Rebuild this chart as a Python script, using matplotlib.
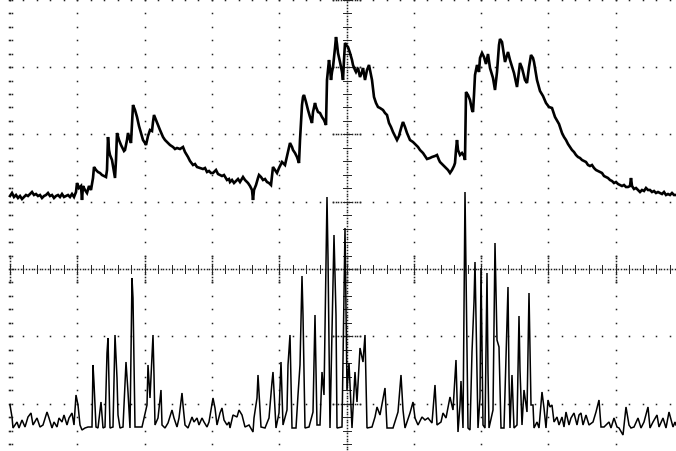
import numpy as np
import matplotlib
matplotlib.use("Agg")
import matplotlib.pyplot as plt

upper_t = [10, 12, 14, 16, 18, 20, 22, 24, 26, 28, 30, 32, 34, 36, 38, 40, 42, 44, 46, 48,
           50, 52, 54, 56, 58, 60, 62, 64, 66, 68, 70, 72, 74, 76, 77, 79, 81, 82, 83, 85,
           87, 89, 91, 93, 94, 96, 98, 100, 102, 104, 106, 107, 108, 109, 110, 112, 114, 115, 116, 117,
           119, 121, 122, 124, 125, 127, 128, 130, 131, 132, 133, 135, 137, 139, 141, 143, 145, 146, 148, 150,
           152, 153, 154, 156, 158, 160, 163, 165, 167, 170, 173, 175, 177, 180, 183, 185, 188, 190, 193, 195,
           197, 200, 203, 205, 207, 209, 211, 213, 216, 218, 220, 222, 224, 227, 229, 230, 232, 234, 236, 238,
           240, 243, 245, 248, 250, 252, 253, 254, 256, 258, 259, 261, 263, 265, 267, 269, 271, 272, 273, 275,
           277, 279, 281, 282, 284, 285, 287, 289, 290, 292, 293, 295, 297, 299, 300, 302, 303, 304, 306, 308,
           310, 312, 313, 315, 316, 318, 320, 322, 324, 326, 327, 328, 329, 330, 331, 332, 333, 335, 336, 337,
           338, 340, 342, 343, 344, 345, 347, 348, 350, 352, 353, 355, 356, 358, 360, 362, 363, 365, 367, 369,
           371, 372, 374, 376, 378, 380, 383, 385, 387, 389, 391, 393, 395, 397, 399, 400, 402, 403, 405, 407,
           410, 413, 415, 418, 420, 423, 425, 427, 430, 432, 435, 437, 439, 440, 443, 445, 448, 450, 452, 454,
           455, 456, 457, 458, 460, 462, 464, 465, 466, 468, 470, 472, 473, 474, 475, 477, 479, 480, 482, 484,
           486, 488, 490, 493, 495, 497, 499, 500, 502, 505, 508, 510, 514, 517, 520, 522, 525, 527, 529, 531,
           533, 534, 537, 540, 543, 546, 549, 552, 555, 559, 562, 564, 566, 568, 570, 572, 574, 576, 578, 580,
           582, 584, 586, 588, 590, 592, 594, 596, 598, 600, 602, 604, 606, 608, 610, 612, 614, 616, 618, 620,
           622, 624, 626, 628, 630, 631, 632, 634, 636, 638, 640, 642, 644, 646, 648, 650, 652, 654, 656, 658,
           660, 662, 664, 666, 668, 670, 672, 674, 676]
upper_v = [73, 76, 72, 74, 71, 73, 70, 72, 74, 73, 75, 77, 74, 75, 73, 74, 71, 73, 74, 76,
           73, 74, 71, 73, 74, 72, 75, 72, 73, 74, 72, 75, 72, 77, 86, 81, 83, 69, 83, 79,
           76, 83, 79, 91, 102, 99, 97, 96, 94, 93, 92, 99, 132, 119, 114, 109, 97, 91, 109, 136,
           129, 124, 122, 118, 119, 129, 136, 129, 126, 144, 164, 159, 152, 143, 136, 129, 126, 124, 133, 139,
           138, 147, 154, 149, 144, 139, 132, 129, 127, 124, 122, 120, 121, 120, 122, 117, 112, 108, 104, 105,
           102, 101, 100, 101, 97, 98, 96, 96, 99, 95, 94, 93, 94, 89, 90, 87, 89, 86, 88, 90,
           87, 92, 89, 86, 83, 79, 69, 79, 84, 91, 94, 92, 89, 90, 87, 86, 84, 93, 102, 99,
           96, 101, 105, 107, 105, 104, 113, 122, 126, 122, 119, 116, 112, 106, 129, 164, 172, 174, 167, 159,
           152, 146, 157, 166, 162, 157, 156, 152, 149, 144, 189, 199, 209, 201, 189, 197, 202, 221, 232, 225,
           216, 207, 197, 189, 209, 226, 223, 222, 216, 209, 204, 199, 197, 201, 192, 197, 201, 189, 199, 204,
           194, 189, 172, 166, 162, 161, 159, 156, 154, 146, 142, 137, 133, 129, 133, 137, 144, 147, 142, 136,
           129, 127, 125, 122, 119, 116, 113, 110, 111, 112, 113, 114, 109, 107, 104, 102, 99, 96, 99, 103,
           106, 119, 129, 119, 114, 116, 113, 109, 177, 174, 169, 159, 157, 174, 194, 204, 197, 211, 216, 212,
           205, 215, 201, 191, 179, 197, 224, 230, 227, 207, 217, 209, 196, 182, 206, 201, 189, 186, 202, 214,
           211, 207, 189, 178, 173, 166, 162, 161, 152, 145, 136, 132, 129, 125, 122, 119, 117, 114, 112, 111,
           109, 108, 107, 104, 103, 104, 101, 99, 98, 97, 96, 93, 92, 91, 89, 88, 86, 87, 85, 84,
           83, 84, 82, 82, 83, 91, 83, 80, 81, 79, 77, 79, 78, 81, 79, 79, 77, 78, 76, 77,
           76, 75, 77, 74, 75, 74, 76, 74, 74]

lower_t = [10, 12, 13, 17, 19, 22, 25, 28, 31, 33, 37, 40, 43, 47, 49, 52, 54, 57, 59, 62,
           64, 67, 69, 72, 74, 76, 78, 80, 82, 85, 88, 92, 93, 94, 96, 98, 101, 103, 105, 107,
           108, 110, 113, 115, 117, 118, 120, 123, 125, 126, 128, 130, 132, 133, 135, 138, 142, 147, 148, 150,
           153, 154, 155, 158, 161, 162, 165, 168, 172, 174, 177, 179, 182, 183, 185, 188, 192, 194, 197, 199,
           202, 204, 207, 209, 213, 215, 217, 220, 222, 224, 227, 229, 230, 233, 237, 239, 242, 245, 249, 253,
           254, 257, 258, 261, 265, 269, 272, 273, 276, 279, 281, 283, 287, 288, 290, 292, 296, 298, 300, 302,
           303, 305, 309, 313, 315, 317, 320, 322, 324, 327, 328, 330, 334, 336, 337, 342, 345, 347, 349, 352,
           355, 357, 360, 363, 365, 367, 372, 375, 377, 380, 385, 387, 393, 398, 401, 403, 405, 410, 413, 415,
           418, 422, 425, 428, 432, 435, 437, 441, 443, 446, 450, 453, 456, 458, 460, 461, 463, 465, 468, 470,
           472, 474, 475, 477, 478, 480, 481, 483, 485, 487, 488, 489, 493, 495, 497, 499, 501, 504, 508, 509,
           510, 512, 514, 517, 519, 520, 522, 524, 527, 529, 531, 533, 534, 537, 539, 542, 544, 546, 548, 550,
           552, 554, 557, 559, 562, 564, 566, 569, 571, 574, 577, 579, 581, 583, 586, 589, 593, 596, 599, 601,
           604, 609, 611, 614, 617, 619, 623, 626, 629, 631, 634, 638, 641, 644, 648, 650, 653, 657, 659, 663,
           666, 669, 673, 675, 676]
lower_v = [-136, -148, -159, -153, -159, -151, -158, -148, -144, -156, -149, -158, -156, -143, -149, -159, -153, -158, -149, -153,
           -146, -156, -149, -144, -156, -126, -136, -156, -161, -159, -158, -158, -96, -114, -158, -159, -133, -159, -158, -84,
           -69, -159, -158, -66, -109, -146, -159, -158, -113, -93, -123, -159, -9, -29, -158, -158, -158, -136, -96, -129,
           -66, -106, -156, -149, -121, -156, -159, -154, -141, -149, -158, -149, -124, -136, -156, -159, -148, -153, -149, -156,
           -149, -153, -158, -153, -129, -139, -156, -144, -139, -151, -156, -153, -159, -146, -148, -141, -146, -158, -156, -163,
           -149, -129, -106, -158, -159, -149, -113, -103, -159, -144, -93, -156, -141, -96, -66, -159, -159, -126, -96, -7,
           -46, -159, -158, -143, -46, -156, -156, -103, -126, 72, 12, -159, 34, -46, -159, -158, 41, -121, -94, -159,
           -103, -133, -79, -93, -66, -159, -158, -148, -138, -146, -119, -159, -159, -143, -106, -141, -159, -144, -133, -149,
           -156, -148, -151, -149, -154, -116, -156, -153, -144, -149, -128, -141, -91, -163, -136, -112, -159, 77, -159, -161,
           -83, -33, 7, -101, -159, -129, 1, -156, -159, -4, -103, -159, -141, 26, -71, -78, -159, -159, -18, -108,
           -159, -106, -159, -156, -47, -101, -156, -121, -143, -24, -136, -136, -159, -153, -159, -123, -139, -159, -131, -138,
           -136, -153, -148, -156, -148, -158, -143, -156, -149, -144, -156, -146, -144, -156, -146, -156, -153, -143, -131, -158,
           -158, -153, -159, -149, -158, -159, -166, -138, -156, -159, -158, -149, -159, -153, -138, -159, -153, -146, -158, -149,
           -159, -143, -158, -153, -156]

# graticule
DIV = 67.3      # one screen division
LEFT = 10       # left edge of the screen
MINOR = DIV / 5

fig = plt.figure(figsize=(6.76, 4.51), dpi=100)
ax = fig.add_axes([0, 0, 1, 1])
ax.set_xlim(0, 676)
ax.set_ylim(-182, 269)
ax.axis("off")

dot = dict(ls="none", marker="s", ms=1.1, mew=0, color="#222222")
xs_major = [LEFT + k * DIV for k in range(11)]
ys_major = [j * DIV for j in range(-4, 5)]
xcen = LEFT + 5 * DIV

v_minor = np.arange(-20, 21) * MINOR
h_minor = LEFT + np.arange(0, 51) * MINOR
for x in xs_major:
    if x == xcen:
        continue
    ax.plot(np.full_like(v_minor, x), v_minor, **dot)
for y in ys_major:
    if y == 0:
        continue
    ax.plot(h_minor, np.full_like(h_minor, y), **dot)

# centre lines: fine dots with little cross ticks
fine_v = np.arange(-100, 101) * DIV / 25
fine_h = LEFT + np.arange(0, 251) * DIV / 25
ax.plot(np.full_like(fine_v, xcen), fine_v, **dot)
ax.plot(fine_h, np.zeros_like(fine_h), **dot)
for y in v_minor:
    ax.plot([xcen - 4, xcen + 4], [y, y], color="#222222", lw=0.7)
for x in h_minor:
    ax.plot([x, x], [-4, 4], color="#222222", lw=0.7)
for x in xs_major:
    seg = np.arange(-5, 6) * DIV / 25
    ax.plot(np.full_like(seg, x), seg, **dot)
for y in ys_major:
    seg = xcen + np.arange(-5, 6) * DIV / 25
    ax.plot(seg, np.full_like(seg, y), **dot)
# small double marks on the left edge
for y in v_minor:
    ax.plot([LEFT - 1, LEFT + 2], [y, y], ls="none", marker="s", ms=1.1, mew=0, color="#222222")

ax.plot(upper_t, upper_v, color="black", lw=1.9, solid_joinstyle="miter")
ax.plot(lower_t, lower_v, color="black", lw=1.1, solid_joinstyle="miter")

fig.savefig("out.png", dpi=100, facecolor="white")
